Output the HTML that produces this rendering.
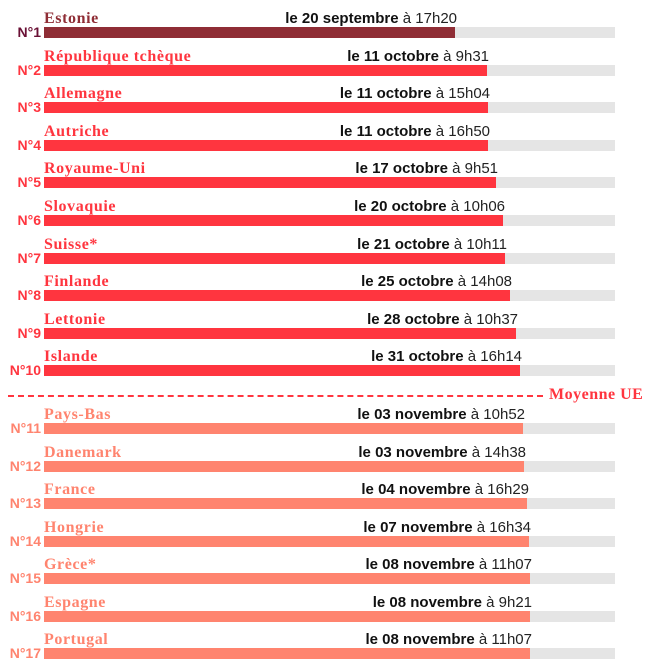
<!DOCTYPE html>
<html><head><meta charset="utf-8"><style>
body{margin:0;width:660px;height:668px;background:#fff;position:relative;overflow:hidden;font-family:"Liberation Sans",sans-serif}
.n{position:absolute;left:0;width:41px;text-align:right;font-weight:bold;font-size:14px}
.name{position:absolute;left:44px;font-family:"Liberation Serif",serif;font-weight:bold;font-size:16px;letter-spacing:0.6px}
.bg{position:absolute;left:44px;width:571px;height:11px;background:#e5e5e5}
.f{position:absolute;left:0;top:0;height:11px}
.d{position:absolute;font-size:15px;color:#222;white-space:nowrap;transform:translateX(-100%)}
.d b{color:#111}
</style></head><body>
<div id="c"></div>
<div style="position:absolute;left:8px;top:395px;width:535px;border-top:2px dashed #ff353f"></div>
<div style="position:absolute;left:549px;top:386px;font-family:'Liberation Serif',serif;font-weight:bold;font-size:16px;letter-spacing:0.5px;color:#ff353f">Moyenne UE</div>
<script>
var rows=[["Estonie","20 septembre","17h20",455],["République tchèque","11 octobre","9h31",487],["Allemagne","11 octobre","15h04",488],["Autriche","11 octobre","16h50",488],["Royaume-Uni","17 octobre","9h51",496],["Slovaquie","20 octobre","10h06",503],["Suisse*","21 octobre","10h11",505],["Finlande","25 octobre","14h08",510],["Lettonie","28 octobre","10h37",516],["Islande","31 octobre","16h14",520],["Pays-Bas","03 novembre","10h52",523],["Danemark","03 novembre","14h38",524],["France","04 novembre","16h29",527],["Hongrie","07 novembre","16h34",529],["Grèce*","08 novembre","11h07",530],["Espagne","08 novembre","9h21",530],["Portugal","08 novembre","11h07",530]];
var h="";
rows.forEach(function(r,i){
 var top=i<10?27+i*37.6:423+(i-10)*37.5;
 var col=i==0?"#8f2d35":(i<10?"#ff353f":"#ff846f");
 var ncol=i==0?"#6a1035":col;
 h+='<div class="name" style="top:'+(top-17)+'px;color:'+col+'">'+r[0]+'</div>';
 h+='<div class="n" style="top:'+(top-3)+'px;color:'+ncol+'">N°'+(i+1)+'</div>';
 h+='<div class="bg" style="top:'+top+'px"><div class="f" style="width:'+(r[3]-44)+'px;background:'+col+'"></div></div>';
 h+='<div class="d" style="left:'+(r[3]+2)+'px;top:'+(top-17)+'px"><b>le '+r[1]+'</b> à '+r[2]+'</div>';
});
document.getElementById("c").innerHTML=h;
</script>
</body></html>
